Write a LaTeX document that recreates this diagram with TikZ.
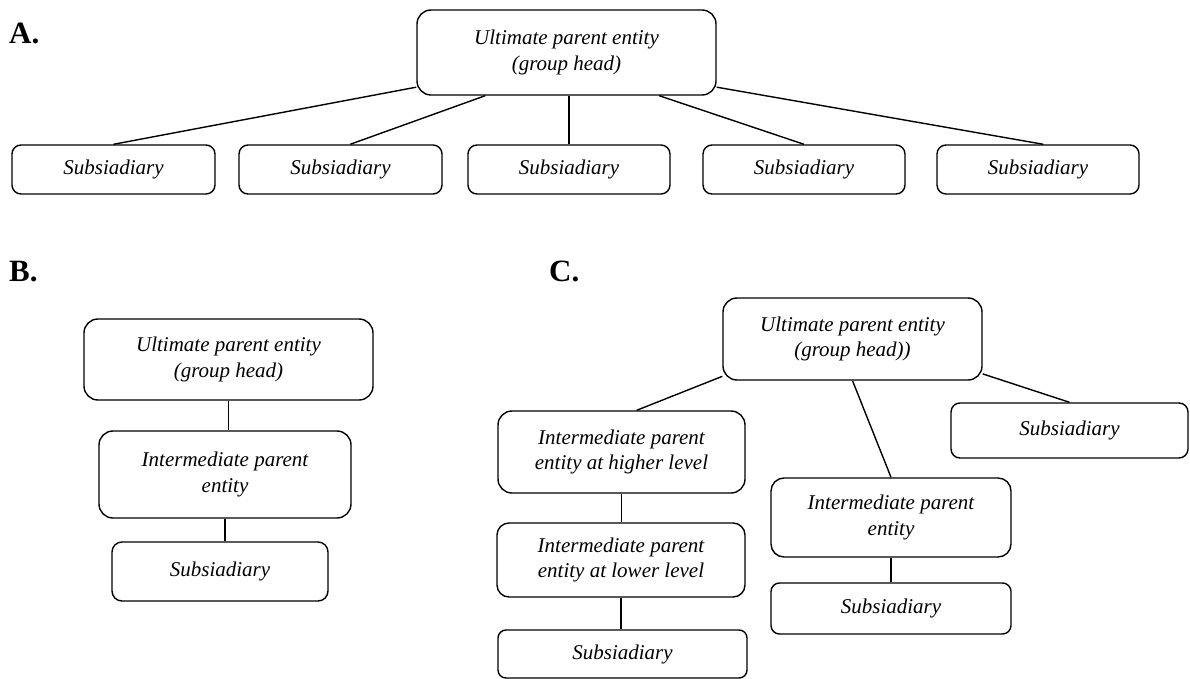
\documentclass[tikz,border=0pt]{standalone}
\usepackage{fontspec}
\setmainfont{Liberation Serif}
\begin{document}
\begin{tikzpicture}[x=1pt,y=-1pt,
  box/.style={draw, line width=1.4pt, rounded corners=#1, inner sep=0pt, align=center,
    font=\fontsize{21}{25.3}\selectfont\itshape},
  box/.default=9pt,
  link/.style={line width=1.4pt},
  tag/.style={font=\fontsize{31}{33}\selectfont\bfseries, anchor=base west, inner sep=0pt}]
\useasboundingbox (0,0) rectangle (1190,679);

% ---------- A ----------
\node[tag] (labA) at (9,44) {A.};
\node[box=14pt, minimum width=299pt, minimum height=85pt] (atop) at (566.5,52.5) {Ultimate parent entity\\(group head)};
\node[box, minimum width=203pt, minimum height=49pt] (as1) at (113.5,169.5) {Subsiadiary};
\node[box, minimum width=203pt, minimum height=49pt] (as2) at (340.5,169.5) {Subsiadiary};
\node[box, minimum width=202pt, minimum height=49pt] (as3) at (569,169.5) {Subsiadiary};
\node[box, minimum width=202pt, minimum height=49pt] (as4) at (804,169.5) {Subsiadiary};
\node[box, minimum width=202pt, minimum height=49pt] (as5) at (1038,169.5) {Subsiadiary};
\draw[link] (atop.193) -- (as1.north);
\draw[link] (atop.208.4) -- (as2.69);
\draw[link] (as3.north) -- (as3.north |- atop.south);
\draw[link] (atop.335.3) -- (as4.north);
\draw[link] (atop.347) -- (as5.78);

% ---------- B ----------
\node[tag] (labB) at (9,281) {B.};
\node[box=14pt, minimum width=289pt, minimum height=81pt] (btop) at (228.5,359.5) {Ultimate parent entity\\(group head)};
\node[box=14pt, minimum width=252pt, minimum height=87pt] (bmid) at (225,474.5) {Intermediate parent\\entity};
\node[box=10pt, minimum width=216pt, minimum height=59pt] (bsub) at (220,571.5) {Subsiadiary};
\draw[link] (btop.south) -- (btop.south |- bmid.north);
\draw[link] (bmid.south) -- (bmid.south |- bsub.north);

% ---------- C ----------
\node[tag] (labC) at (549,281) {C.};
\node[box=14pt, minimum width=259pt, minimum height=82pt] (ctop) at (852.5,339) {Ultimate parent entity\\(group head))};
\node[box=14pt, minimum width=247pt, minimum height=82pt] (cl1) at (621.5,452) {Intermediate parent\\entity at higher level};
\node[box=12pt, minimum width=248pt, minimum height=74pt] (cl2) at (621,560) {Intermediate parent\\entity at lower level};
\node[box=8pt, minimum width=249pt, minimum height=48pt] (cl3) at (622.5,654) {Subsiadiary};
\node[box=13pt, minimum width=240pt, minimum height=79pt] (cmid) at (891,517.5) {Intermediate parent\\entity};
\node[box=8.5pt, minimum width=240pt, minimum height=51pt] (cmsub) at (891,608.5) {Subsiadiary};
\node[box=9pt, minimum width=237pt, minimum height=55pt] (crsub) at (1069.5,430.5) {Subsiadiary};
\draw[link] (ctop.196) -- (cl1.70.5);
\draw[link] (ctop.south) -- (cmid.north);
\draw[link] (ctop.345) -- (crsub.north);
\draw[link] (cl1.south) -- (cl1.south |- cl2.north);
\draw[link] (cl2.south) -- (cl2.south |- cl3.north);
\draw[link] (cmid.south) -- (cmid.south |- cmsub.north);
\end{tikzpicture}
\end{document}
